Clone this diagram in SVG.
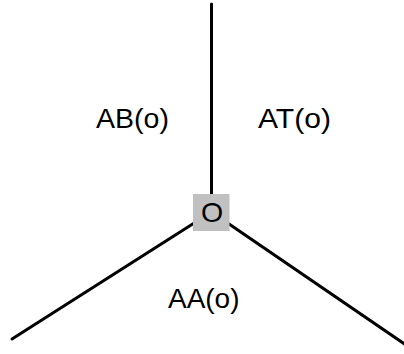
<svg xmlns="http://www.w3.org/2000/svg" width="404" height="354" viewBox="0 0 404 354">
<style>
.edge{stroke:#000;stroke-width:3;fill:none;stroke-linecap:round}
.lbl{font-family:"Liberation Sans",Arial,sans-serif;font-size:28.5px;fill:#000}
</style>
<rect width="404" height="354" fill="#fff"/>
<g id="connectors">
<line class="edge" x1="211.5" y1="4" x2="211.5" y2="212"/>
<line class="edge" x1="211.5" y1="212" x2="12" y2="339"/>
<line class="edge" x1="211.5" y1="212" x2="406" y2="345"/>
</g>
<g id="node-O">
<rect x="193" y="194" width="36.5" height="37" fill="#c0c0c0"/>
<text class="lbl" x="201" y="221.5">O</text>
</g>
<g id="label-AB">
<text class="lbl" x="96" y="128.3" textLength="73" lengthAdjust="spacingAndGlyphs">AB(o)</text>
</g>
<g id="label-AT">
<text class="lbl" x="258" y="128.3" textLength="73" lengthAdjust="spacingAndGlyphs">AT(o)</text>
</g>
<g id="label-AA">
<text class="lbl" x="168" y="308.3" textLength="71.5" lengthAdjust="spacingAndGlyphs">AA(o)</text>
</g>
</svg>
